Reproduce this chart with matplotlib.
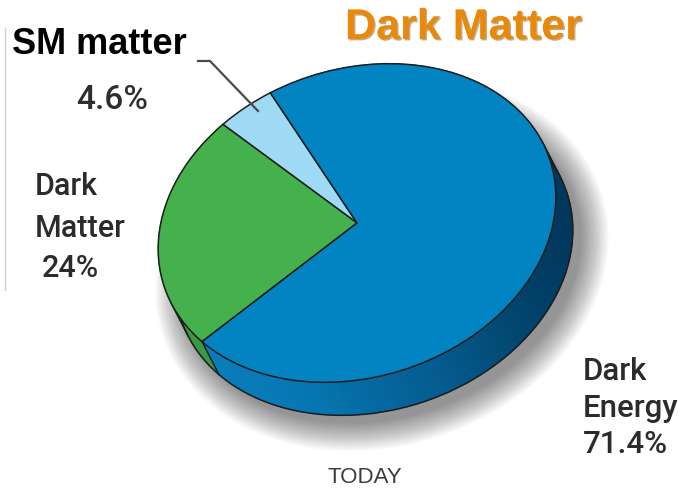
import numpy as np
import matplotlib
matplotlib.use('Agg')
import matplotlib.pyplot as plt
from matplotlib.patches import Wedge, Polygon, Ellipse
from matplotlib.transforms import Affine2D
from matplotlib.colors import LinearSegmentedColormap
import matplotlib.patheffects as pe

W, H = 683, 490

# segments, counter-clockwise from start_angle
names = ['SM matter', 'Dark Matter', 'Dark Energy']
shares = [4.6, 24.0, 71.4]
top_colors = ['#9fdaf5', '#44b14c', '#0284c3']
side_colors = ['#80c6e6', '#3a9a42', None]   # None -> gradient

# geometry of the tilted disc (pixels, y up)
cx, cy = 357, H - 223
a, b = 203, 154
tilt = 18
start_angle = 102
# the bottom rim is the top rim shifted by this vector
shift = np.array([17.0, -33.0])

side_cmap = LinearSegmentedColormap.from_list(
    'side', ['#0a80c0', '#0676b2', '#045a8c', '#003457'])


def top_pt(phi_deg):
    phi = np.radians(phi_deg)
    t = np.radians(tilt)
    u, v = a * np.cos(phi), b * np.sin(phi)
    return np.array([cx + u * np.cos(t) - v * np.sin(t), cy + u * np.sin(t) + v * np.cos(t)])


def bot_pt(phi_deg):
    return top_pt(phi_deg) + shift


fig = plt.figure(figsize=(W / 100, H / 100), dpi=100)
ax = fig.add_axes([0, 0, 1, 1])
ax.set_xlim(0, W)
ax.set_ylim(0, H)
ax.axis('off')

# soft shadow
for e in np.linspace(0, 28, 24):
    ax.add_patch(Ellipse((cx + shift[0] + 8, cy + shift[1] - 8), 2 * (a + e), 2 * (b + e),
                         angle=tilt, facecolor='black', edgecolor='none', alpha=0.018, zorder=1))

# angular extents of each segment
bounds = start_angle + 3.6 * np.concatenate([[0], np.cumsum(shares)])

# side wall
for i in range(len(shares)):
    phis = np.linspace(bounds[i], bounds[i + 1], max(int(bounds[i + 1] - bounds[i]) + 1, 2))
    for p0, p1 in zip(phis[:-1], phis[1:]):
        quad = [top_pt(p0), top_pt(p1), bot_pt(p1), bot_pt(p0)]
        if side_colors[i] is None:
            xm = np.mean([q[0] for q in quad])
            col = side_cmap(np.clip((xm - 180) / 400, 0, 1))
        else:
            col = side_colors[i]
        ax.add_patch(Polygon(quad, closed=True, facecolor=col, edgecolor=col,
                             lw=0.6, zorder=2))

ax.add_patch(Ellipse(tuple(np.array([cx, cy]) + shift), 2 * a, 2 * b, angle=tilt, fill=False,
                     edgecolor='#1c1c1c', lw=1.1, zorder=3))

# silhouette: rim points where the tangent is parallel to the shift
grid = np.linspace(0, 360, 3601)
tang = np.array([top_pt(p + 0.05) - top_pt(p - 0.05) for p in grid])
cross = tang[:, 0] * shift[1] - tang[:, 1] * shift[0]
edges = [grid[k] for k in range(len(grid) - 1) if np.sign(cross[k]) != np.sign(cross[k + 1])]
for p in edges + [bounds[2]]:
    p0, p1 = top_pt(p), bot_pt(p)
    ax.plot([p0[0], p1[0]], [p0[1], p1[1]], color='#1c1c1c', lw=1.0, zorder=3)

# top face
face = Affine2D().scale(a, b).rotate_deg(tilt).translate(cx, cy) + ax.transData
for i in range(len(shares)):
    ax.add_patch(Wedge((0, 0), 1, bounds[i], bounds[i + 1], facecolor=top_colors[i],
                       edgecolor='#1e1e1e', lw=1.1, transform=face, zorder=4))

# leader line for the small segment
ax.plot([198, 210, 258], [H - 61, H - 61, H - 111], color='#4a4a4a', lw=1.6,
        solid_joinstyle='miter', zorder=5)

# left border line
ax.plot([5, 5], [H - 28, H - 290], color='#cccccc', lw=1.0, zorder=0)

# titles and labels
ax.text(345, H - 39, 'Dark Matter', family='Liberation Sans', weight='bold',
        fontsize=31, color='#e8890c', va='baseline', ha='left', zorder=6,
        path_effects=[pe.withSimplePatchShadow(offset=(1, -1), shadow_rgbFace='#7a4800', alpha=0.45)])
ax.text(12, H - 54, 'SM matter', family='Liberation Sans', weight='bold',
        fontsize=26, color='black', va='baseline', ha='left', zorder=6)
ax.text(76, H - 109, '4.6%', family='Roboto', weight='medium', fontsize=24, color='#2e2e2e',
        va='baseline', ha='left', zorder=6)

dm_lines = [('Dark', 35, 195), ('Matter', 35, 237), ('24%', 42, 277)]
for s, x, y in dm_lines:
    ax.text(x, H - y, s, family='Roboto', weight='medium', fontsize=22, color='#2b2b2b',
            va='baseline', ha='left', zorder=6)

de_lines = [('Dark', 583, 380), ('Energy', 583, 417), ('71.4%', 583, 453)]
for s, x, y in de_lines:
    ax.text(x, H - y, s, family='Roboto', weight='medium', fontsize=22.5, color='#2b2b2b',
            va='baseline', ha='left', zorder=6)

ax.text(328, H - 483, 'TODAY', family='Liberation Sans', fontsize=16, color='#3c3c3c',
        va='baseline', ha='left', zorder=6)

fig.savefig('out.png', dpi=100)
